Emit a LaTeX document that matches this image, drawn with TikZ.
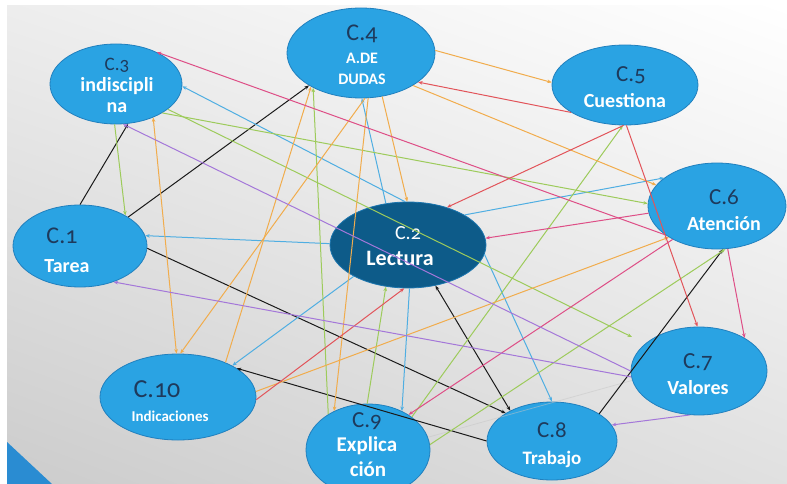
\documentclass[tikz,border=0pt]{standalone}
\usepackage{fontspec}
\setmainfont{Carlito}[Numbers=OldStyle]
\usetikzlibrary{shapes.geometric,arrows.meta,shadings}

\definecolor{nodeblue}{HTML}{2AA3E3}
\definecolor{nodeedge}{HTML}{2180BE}
\definecolor{coreblue}{HTML}{0D5B89}
\definecolor{labnavy}{HTML}{1E3A5C}
\definecolor{lnblack}{HTML}{1A1A1A}
\definecolor{lnblue}{HTML}{4FAEE2}
\definecolor{lngreen}{HTML}{9DCB5B}
\definecolor{lnorange}{HTML}{F1AC4C}
\definecolor{lnred}{HTML}{E2545A}
\definecolor{lnpink}{HTML}{DE4E86}
\definecolor{lnpurple}{HTML}{A477D9}
\definecolor{cornerblue}{HTML}{2A8CD2}

\tikzset{
  cat/.style={ellipse, draw=nodeedge, line width=0.8pt, fill=nodeblue, inner sep=0pt},
  num/.style={text=labnavy, inner sep=0pt, font=\fontsize{23}{23}\selectfont},
  sub/.style={text=white, inner sep=0pt, font=\bfseries\fontsize{20}{20}\selectfont},
  tip/.tip={Stealth[length=4.5pt,width=3.6pt]},
  link/.style={line width=1pt, -tip},
  twoway/.style={line width=1pt, tip-tip},
}

\begin{document}
\begin{tikzpicture}[x=1pt,y=-1pt]
\useasboundingbox (0,0) rectangle (787,484);
\clip (0,0) rectangle (787,484);

% slide background
\fill[white] (0,0) rectangle (787,484);
\shade[upper left=gray!14, upper right=white, lower left=gray!40, lower right=gray!24]
  (7,6) rectangle (787,484);
\fill[cornerblue] (7,442) -- (52,484) -- (7,484) -- cycle;

% categories
\node[cat, minimum width=134pt, minimum height=82pt] (c1) at (80,246) {};
\node[cat, fill=coreblue, draw=nodeedge!70!coreblue, minimum width=156pt, minimum height=86pt] (c2) at (408,245) {};
\node[cat, minimum width=132pt, minimum height=80pt] (c3) at (116,84) {};
\node[cat, minimum width=148pt, minimum height=90pt] (c4) at (361,53) {};
\node[cat, minimum width=146pt, minimum height=80pt] (c5) at (625,85) {};
\node[cat, minimum width=138pt, minimum height=86pt] (c6) at (717,206) {};
\node[cat, minimum width=136pt, minimum height=88pt] (c7) at (699,371) {};
\node[cat, minimum width=130pt, minimum height=78pt] (c8) at (552,441) {};
\node[cat, minimum width=124pt, minimum height=92pt] (c9) at (368,450) {};
\node[cat, minimum width=156pt, minimum height=86pt] (c10) at (178,397) {};

% labels
\node[num, font=\fontsize{24}{24}\selectfont] (n1) at (62,236) {C.1};
\node[sub] (t1) at (67,266) {Tarea};
\node[num, text=white, font=\fontsize{20}{20}\selectfont] (n2) at (408,233) {C.2};
\node[sub, font=\bfseries\fontsize{22}{22}\selectfont] (t2) at (400,258) {Lectura};
\node[num, font=\fontsize{19}{19}\selectfont] (n3) at (117,65) {C.3};
\node[sub] (t3a) at (117,86) {indiscipli};
\node[sub] (t3b) at (117,108) {na};
\node[num, font=\fontsize{24}{24}\selectfont] (n4) at (362,34) {C.4};
\node[sub, font=\bfseries\fontsize{16}{16}\selectfont] (t4a) at (362,58) {A.DE};
\node[sub, font=\bfseries\fontsize{16}{16}\selectfont] (t4b) at (362,79) {DUDAS};
\node[num] (n5) at (631,75) {C.5};
\node[sub] (t5) at (625,101) {Cuestiona};
\node[num] (n6) at (724,197) {C.6};
\node[sub] (t6) at (724,224) {Atención};
\node[num] (n7) at (698,362) {C.7};
\node[sub] (t7) at (698,388) {Valores};
\node[num] (n8) at (552,430) {C.8};
\node[sub, font=\bfseries\fontsize{19}{19}\selectfont] (t8) at (552,459) {Trabajo};
\node[num] (n9) at (367,421) {C.9};
\node[sub, font=\bfseries\fontsize{21}{21}\selectfont] (t9a) at (367,446) {Explica};
\node[sub, font=\bfseries\fontsize{21}{21}\selectfont] (t9b) at (368,469) {ción};
\node[num, font=\fontsize{26}{26}\selectfont] (n10) at (157,389) {C.10};
\node[sub, font=\bfseries\fontsize{15}{15}\selectfont] (t10) at (170,416) {Indicaciones};

\coordinate (g3end) at (632,337);

% faint trace
\draw[gray!45, line width=0.8pt, opacity=0.5] (c9.12) -- (c7.188);

% black links
\draw[link, lnblack] (c1.90) -- (c3.287);
\draw[link, lnblack] (c1.31) -- (c4.212);
\draw[link, lnblack] (c1.358) -- (c8.149);
\draw[link, lnblack] (c8.180) -- (c10.26);
\draw[twoway, lnblack] (c2.304) -- (c8.144);
\draw[link, lnblack] (c8.30) -- (c6.278);

% blue links
\draw[link, lnblue] (c2.179) -- (c1.9);
\draw[link, lnblue] (c2.94) -- (c3.358);
\draw[link, lnblue] (c2.118) -- (c4.271);
\draw[link, lnblue] (c2.28) -- (c6.152);
\draw[link, lnblue] (c2.210) -- (c10.30);
\draw[link, lnblue] (c2.272) -- (c9.49);
\draw[link, lnblue] (c2.353) -- (c8.90);

% green links
\draw[link, lngreen] (c3.268) -- (c1.34);
\draw[link, lngreen] (c3.328) -- (c6.178);
\draw[link, lngreen] (c3.334) -- (g3end);
\draw[link, lngreen] (c9.91) -- (c2.242);
\draw[link, lngreen] (c9.37) -- (c5.267);
\draw[link, lngreen] (c9.5) -- (c6.281);
\draw[link, lngreen] (c9.138) -- (c4.216);

% orange links
\draw[link, lnorange] (c4.2) -- (c5.178);
\draw[link, lnorange] (c4.328) -- (c6.161);
\draw[link, lnorange] (c4.296) -- (c2.91);
\draw[link, lnorange] (c4.275) -- (c10.87);
\draw[twoway, lnorange] (c3.318) -- (c10.92);
\draw[link, lnorange] (c4.279) -- (c9.131);
\draw[link, lnorange] (c10.36) -- (c4.214);
\draw[link, lnorange] (c10.4) -- (c6.213);

% red and pink links
\draw[link, lnpink] (c6.209) -- (c3.38);
\draw[link, lnred] (c5.207) -- (c4.333);
\draw[link, lnred] (c5.268) -- (c2.44);
\draw[link, lnred] (c5.272) -- (c7.92);
\draw[link, lnpink] (c6.284) -- (c7.36);
\draw[link, lnpink] (c6.186) -- (c2.5);
\draw[link, lnpink] (c6.217) -- (c9.41);
\draw[link, lnred] (c10.358) -- (c2.265);

% purple links
\draw[link, lnpurple] (c7.180) -- (c3.280);
\draw[link, lnpurple] (c7.185) -- (c1.313);
\draw[link, lnpurple] (c7.258) -- (c8.15);
\end{tikzpicture}
\end{document}
